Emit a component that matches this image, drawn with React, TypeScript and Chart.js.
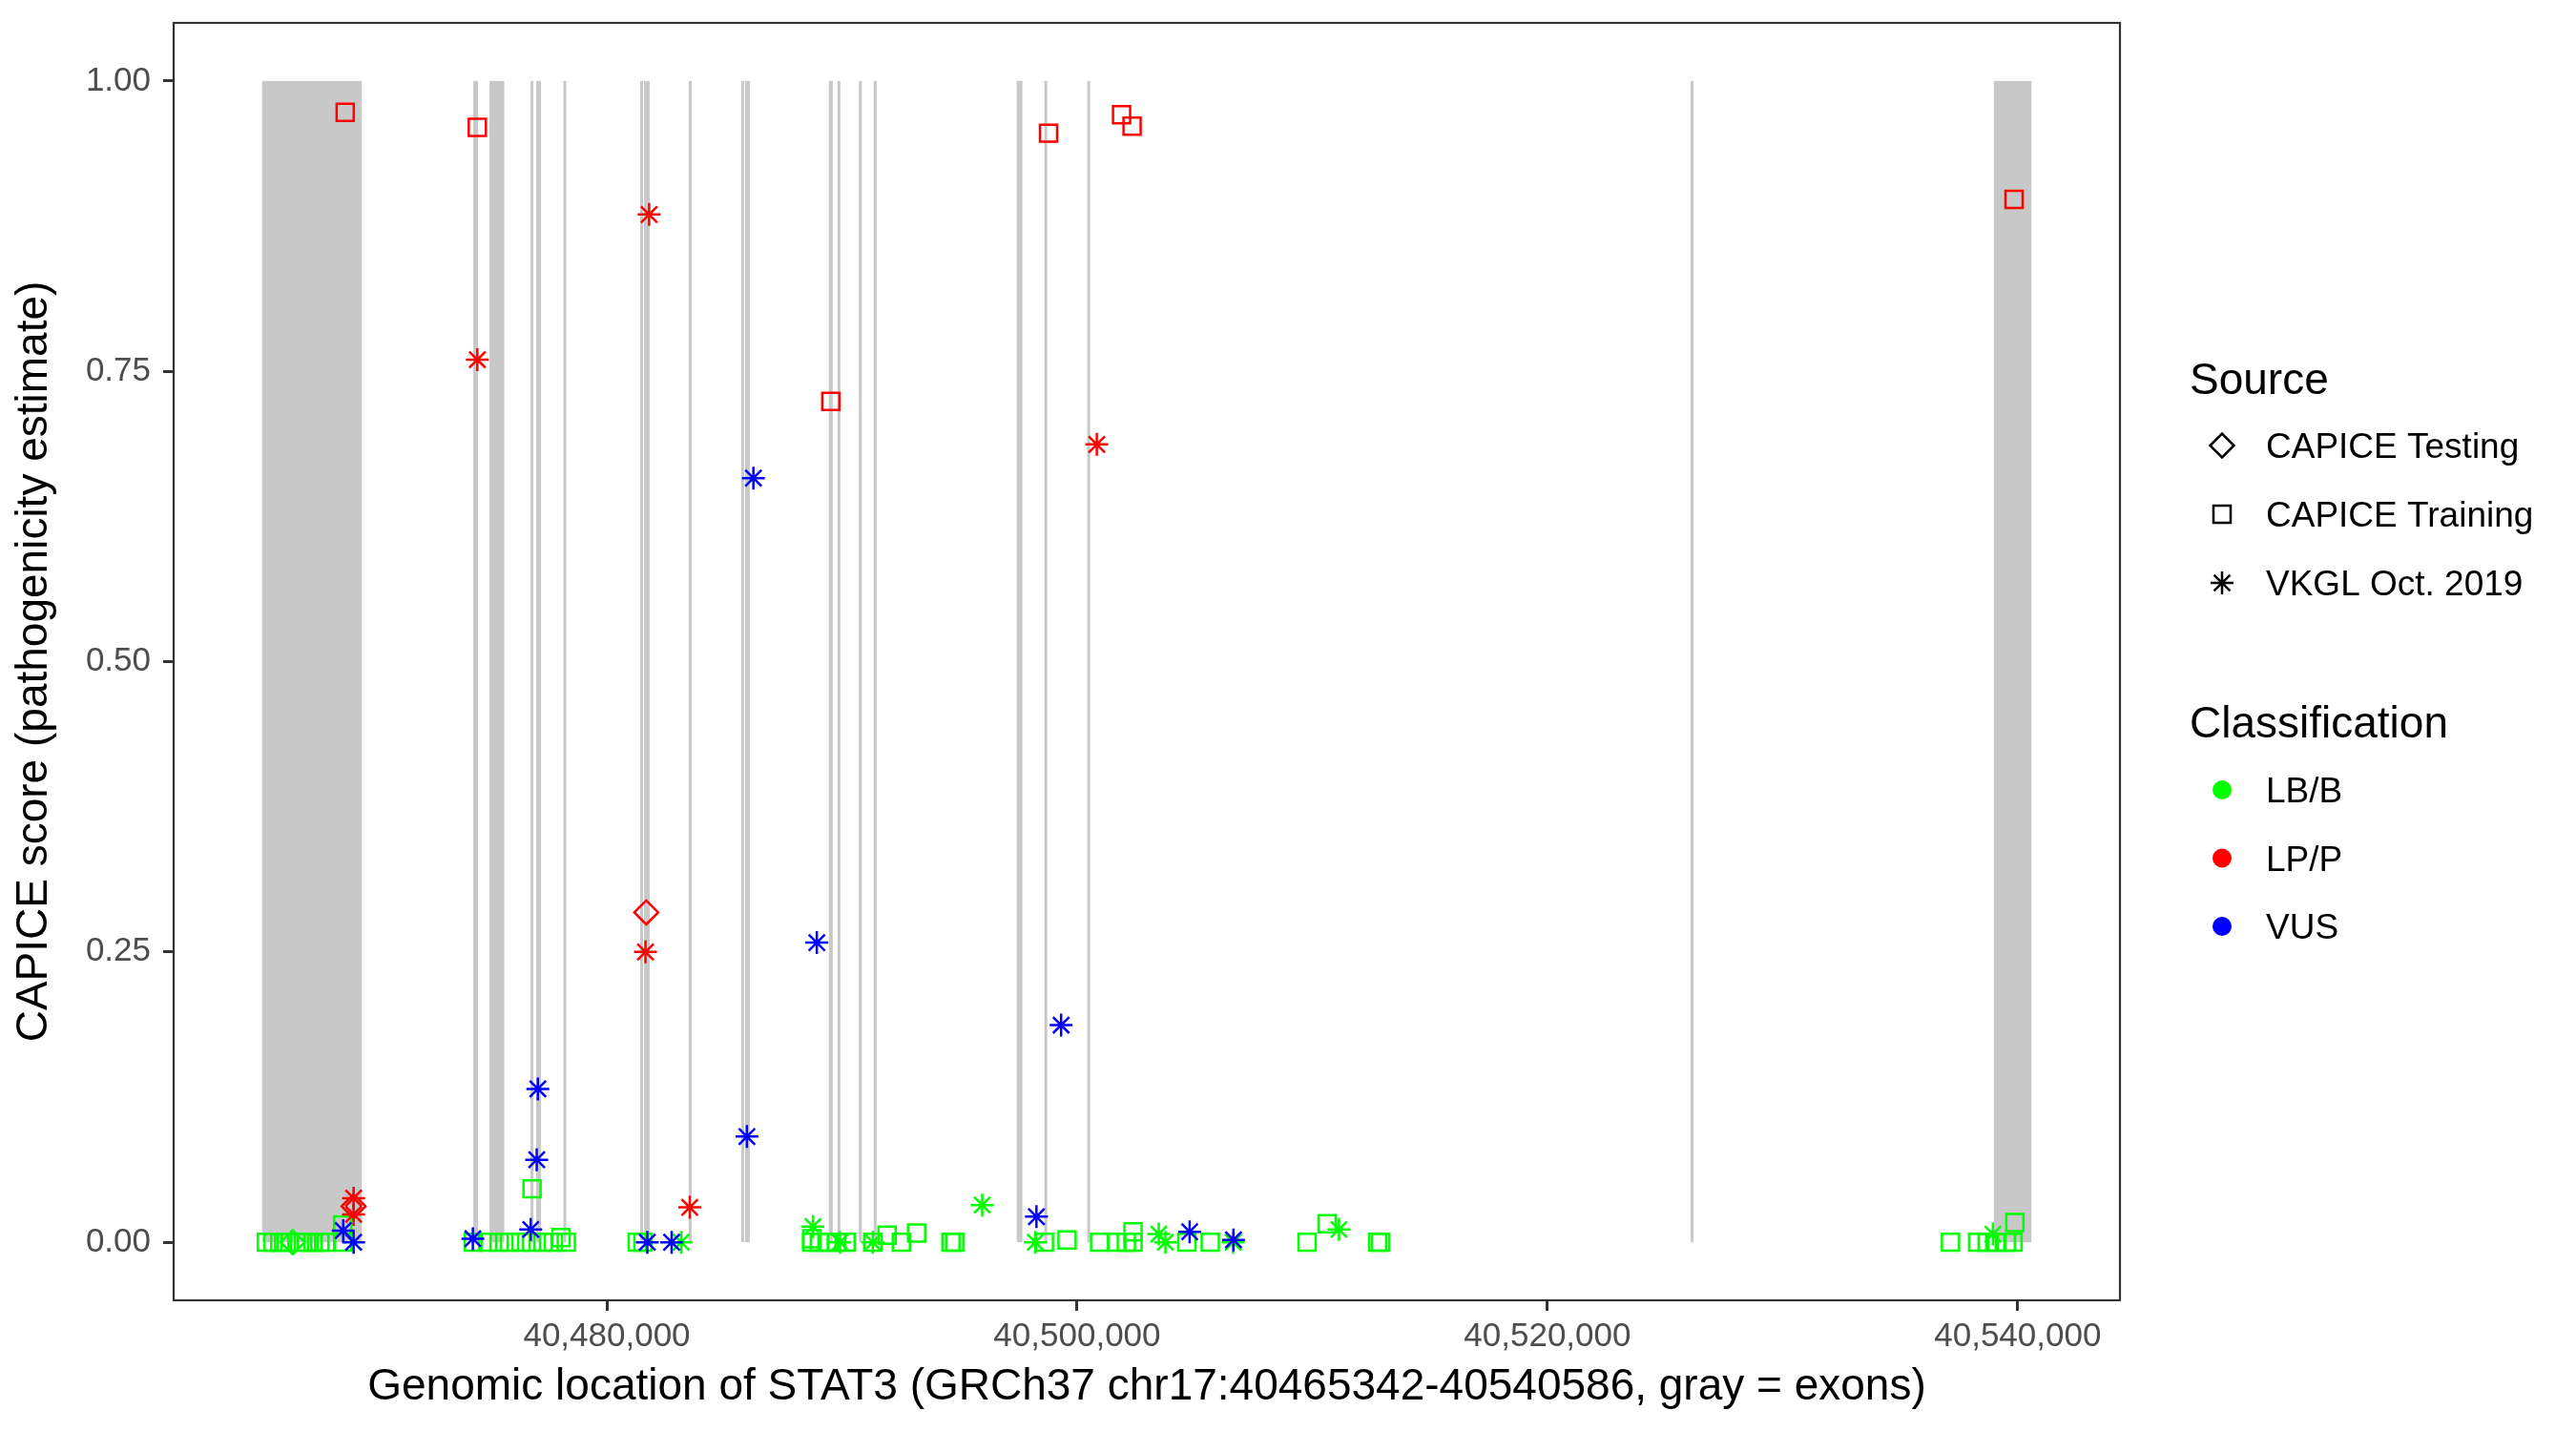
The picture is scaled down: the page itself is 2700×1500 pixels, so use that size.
import React, { useEffect, useRef } from 'react';
import { Chart, registerables } from 'chart.js';

Chart.register(...registerables);

const FONT = '"Liberation Sans", Arial, Helvetica, sans-serif';

// ---- axes ----
const xTicks = [40480000, 40500000, 40520000, 40540000];
const yTicks = [0, 0.25, 0.5, 0.75, 1];
const xMin = 40461580;
const xMax = 40544348;
const yMin = -0.05;
const yMax = 1.05;

const xTitle = 'Genomic location of STAT3 (GRCh37 chr17:40465342-40540586, gray = exons)';
const yTitle = 'CAPICE score (pathogenicity estimate)';

// ---- exons (gray bands) ----
const exonStarts = [
  40465342, 40474324, 40475013, 40476757, 40477000, 40478155, 40481419, 40481581, 40481703,
  40483486, 40485716, 40485878, 40489446, 40489811, 40490723, 40491351, 40497432, 40498608,
  40500432, 40526092, 40538985,
];
const exonEnds = [
  40469581, 40474527, 40475642, 40476878, 40477203, 40478216, 40481500, 40481662, 40481824,
  40483568, 40485797, 40486081, 40489608, 40489912, 40490824, 40491432, 40497675, 40498730,
  40500554, 40526214, 40540586,
];

// ---- legend ----
const sourceTitle = 'Source';
const sourceLabels = ['CAPICE Testing', 'CAPICE Training', 'VKGL Oct. 2019'];
const classTitle = 'Classification';
const classLabels = ['LB/B', 'LP/P', 'VUS'];
const classColors = ['#00FF00', '#FF0000', '#0000FF'];

// ---- points ----
// LB/B, CAPICE Training (green squares)
const lbTrainPos = [
  40465527, 40465811, 40466095, 40466379, 40466946, 40467230, 40467514, 40467797, 40468081,
  40468770, 40468770,
  40474324, 40474932, 40475419, 40475865, 40476351, 40476797, 40476822, 40477284, 40477730,
  40478054, 40478277,
  40481297, 40481540,
  40488716, 40488716, 40489040, 40489365, 40489770, 40490175,
  40491311, 40491919, 40492527, 40493176, 40494636, 40494797,
  40498608, 40499573, 40500959, 40501689, 40502094, 40502378, 40502378,
  40504669, 40505662, 40509781, 40510632, 40512780, 40512900,
  40537141, 40538297, 40538703, 40539108, 40539514, 40539798, 40539879,
];
const lbTrainScore = [
  0, 0, 0, 0, 0, 0, 0, 0, 0,
  0, 0.015,
  0, 0, 0, 0, 0, 0, 0.046, 0, 0,
  0.004, 0,
  0, 0,
  0.003, 0, 0, 0, 0, 0,
  0, 0.006, 0, 0.008, 0, 0,
  0, 0.002, 0, 0, 0, 0, 0.009,
  0, 0, 0, 0.016, 0, 0,
  0, 0, 0, 0, 0, 0, 0.017,
];

// LB/B, VKGL (green asterisks)
const lbVkglPos = [
  40483162, 40488769, 40489916, 40491311, 40495965, 40498223, 40503473, 40503756, 40506635,
  40511135, 40538945,
];
const lbVkglScore = [0, 0.0135, 0, 0, 0.032, 0, 0.007, 0, 0, 0.011, 0.007];

// LB/B, CAPICE Testing (green diamonds)
const lbTestPos = [40466642];
const lbTestScore = [0];

// LP/P, CAPICE Training (red squares)
const lpTrainPos = [40468876, 40474495, 40489527, 40498786, 40501892, 40502338, 40539845];
const lpTrainScore = [0.973, 0.96, 0.724, 0.955, 0.971, 0.961, 0.898];

// LP/P, VKGL (red asterisks)
const lpVkglPos = [40474495, 40481800, 40481646, 40500838, 40469233, 40469233, 40483527];
const lpVkglScore = [0.76, 0.885, 0.25, 0.687, 0.038, 0.024, 0.03];

// LP/P, CAPICE Testing (red diamonds)
const lpTestPos = [40481678, 40469233];
const lpTestScore = [0.284, 0.031];

// VUS, VKGL (blue asterisks)
const vusVkglPos = [
  40486235, 40488931, 40499321, 40477069, 40485959, 40477020, 40498271, 40476765, 40468791,
  40469233, 40474304, 40481723, 40482757, 40504786, 40506651,
];
const vusVkglScore = [
  0.658, 0.258, 0.187, 0.132, 0.091, 0.071, 0.022, 0.011, 0.01, 0, 0.003, 0, 0, 0.009, 0.002,
];

type Shape = 'diamond' | 'square' | 'star' | 'circle';

function drawShape(ctx: CanvasRenderingContext2D, shape: Shape, x: number, y: number, color: string) {
  ctx.save();
  ctx.strokeStyle = color;
  ctx.fillStyle = color;
  ctx.lineWidth = 2.5;
  ctx.beginPath();
  if (shape === 'square') {
    ctx.rect(x - 9, y - 9, 18, 18);
    ctx.stroke();
  } else if (shape === 'diamond') {
    const r = 12.5;
    ctx.moveTo(x - r, y);
    ctx.lineTo(x, y - r);
    ctx.lineTo(x + r, y);
    ctx.lineTo(x, y + r);
    ctx.closePath();
    ctx.stroke();
  } else if (shape === 'star') {
    const r = 12;
    const d = r * Math.SQRT1_2;
    ctx.moveTo(x - r, y); ctx.lineTo(x + r, y);
    ctx.moveTo(x, y - r); ctx.lineTo(x, y + r);
    ctx.moveTo(x - d, y - d); ctx.lineTo(x + d, y + d);
    ctx.moveTo(x - d, y + d); ctx.lineTo(x + d, y - d);
    ctx.stroke();
  } else {
    ctx.arc(x, y, 10, 0, Math.PI * 2);
    ctx.fill();
  }
  ctx.restore();
}

const exonPlugin = {
  id: 'exonBands',
  beforeDatasetsDraw(chart: any) {
    const { ctx, scales } = chart;
    const x = scales.x;
    const y = scales.y;
    const top = y.getPixelForValue(1);
    const bot = y.getPixelForValue(0);
    ctx.save();
    ctx.fillStyle = '#C8C8C8';
    exonStarts.forEach((s, i) => {
      const x0 = x.getPixelForValue(s);
      const x1 = x.getPixelForValue(exonEnds[i]);
      const w = Math.max(x1 - x0, 3);
      ctx.fillRect(x0, top, w, bot - top);
    });
    ctx.restore();
  },
};

const framePlugin = {
  id: 'panelFrame',
  afterDraw(chart: any) {
    const { ctx, chartArea } = chart;
    ctx.save();
    ctx.strokeStyle = '#333333';
    ctx.lineWidth = 2.2;
    ctx.strokeRect(chartArea.left, chartArea.top, chartArea.right - chartArea.left, chartArea.bottom - chartArea.top);
    ctx.restore();
  },
};

const legendPlugin = {
  id: 'ggLegend',
  afterDraw(chart: any) {
    const ctx: CanvasRenderingContext2D = chart.ctx;
    ctx.save();
    ctx.fillStyle = '#000000';
    ctx.textAlign = 'left';
    ctx.textBaseline = 'alphabetic';
    const titleX = 2295;
    const keyX = 2329;
    const textX = 2375;
    const step = 72;

    ctx.font = `46px ${FONT}`;
    ctx.fillText(sourceTitle, titleX, 413);
    const shapes: Shape[] = ['diamond', 'square', 'star'];
    sourceLabels.forEach((lab, i) => {
      const cy = 467 + i * step;
      drawShape(ctx, shapes[i], keyX, cy, '#000000');
      ctx.fillStyle = '#000000';
      ctx.font = `37px ${FONT}`;
      ctx.fillText(lab, textX, cy + 13);
    });

    ctx.font = `46px ${FONT}`;
    ctx.fillStyle = '#000000';
    ctx.fillText(classTitle, titleX, 773);
    classLabels.forEach((lab, i) => {
      const cy = 828 + i * 71.5;
      drawShape(ctx, 'circle', keyX, cy, classColors[i]);
      ctx.fillStyle = '#000000';
      ctx.font = `37px ${FONT}`;
      ctx.fillText(lab, textX, cy + 13);
    });
    ctx.restore();
  },
};

function makeSet(label: string, pos: number[], score: number[], style: string, color: string, radius: number) {
  return {
    label,
    data: pos.map((p, i) => ({ x: p, y: score[i] })),
    pointStyle: style,
    pointRadius: radius,
    pointHoverRadius: radius,
    borderColor: color,
    backgroundColor: 'rgba(0,0,0,0)',
    pointBorderWidth: 2.5,
    borderWidth: 2.5,
    showLine: false,
  };
}

export default function App() {
  const canvasRef = useRef<HTMLCanvasElement | null>(null);

  useEffect(() => {
    const canvas = canvasRef.current;
    if (!canvas) return;
    const green = classColors[0];
    const red = classColors[1];
    const blue = classColors[2];
    const chart = new Chart(canvas, {
      type: 'scatter',
      data: {
        datasets: [
          makeSet('VUS VKGL', vusVkglPos, vusVkglScore, 'star', blue, 12),
          makeSet('LP/P Testing', lpTestPos, lpTestScore, 'rectRot', red, 12.5),
          makeSet('LP/P VKGL', lpVkglPos, lpVkglScore, 'star', red, 12),
          makeSet('LP/P Training', lpTrainPos, lpTrainScore, 'rect', red, 12.7),
          makeSet('LB/B Testing', lbTestPos, lbTestScore, 'rectRot', green, 12.5),
          makeSet('LB/B VKGL', lbVkglPos, lbVkglScore, 'star', green, 12),
          makeSet('LB/B Training', lbTrainPos, lbTrainScore, 'rect', green, 12.7),
        ] as any,
      },
      options: {
        animation: false,
        responsive: false,
        maintainAspectRatio: false,
        devicePixelRatio: 1,
        events: [],
        layout: { padding: { top: 24, right: 478, left: 0, bottom: 0 } },
        plugins: {
          legend: { display: false },
          tooltip: { enabled: false },
        },
        scales: {
          x: {
            type: 'linear',
            min: xMin,
            max: xMax,
            afterFit: (scale: any) => {
              scale.height = 137;
              scale.paddingLeft = 0;
              scale.paddingRight = 0;
              scale.paddingTop = 0;
              scale.paddingBottom = 0;
            },
            afterBuildTicks: (scale: any) => {
              scale.ticks = xTicks.map((v) => ({ value: v }));
            },
            border: { display: false },
            grid: {
              display: true,
              drawOnChartArea: false,
              drawTicks: true,
              tickLength: 11,
              tickWidth: 3,
              tickColor: '#333333',
              color: '#333333',
            },
            ticks: {
              autoSkip: false,
              maxRotation: 0,
              padding: 6,
              color: '#4D4D4D',
              font: { size: 35, family: FONT },
              callback: (v: any) => Number(v).toLocaleString('en-US'),
            },
            title: {
              display: true,
              text: xTitle,
              color: '#000000',
              font: { size: 46, family: FONT },
              padding: { top: 0, bottom: 18 },
            },
          },
          y: {
            type: 'linear',
            min: yMin,
            max: yMax,
            afterFit: (scale: any) => {
              scale.width = 182;
              scale.paddingLeft = 0;
              scale.paddingRight = 0;
              scale.paddingTop = 0;
              scale.paddingBottom = 0;
            },
            afterBuildTicks: (scale: any) => {
              scale.ticks = yTicks.map((v) => ({ value: v }));
            },
            border: { display: false },
            grid: {
              display: true,
              drawOnChartArea: false,
              drawTicks: true,
              tickLength: 11,
              tickWidth: 3,
              tickColor: '#333333',
              color: '#333333',
            },
            ticks: {
              autoSkip: false,
              padding: 13,
              color: '#4D4D4D',
              font: { size: 35, family: FONT },
              callback: (v: any) => Number(v).toFixed(2),
            },
            title: {
              display: true,
              text: yTitle,
              color: '#000000',
              font: { size: 46, family: FONT },
              padding: { top: 9, bottom: 0 },
            },
          },
        },
      } as any,
      plugins: [exonPlugin, framePlugin, legendPlugin],
    });
    return () => chart.destroy();
  }, []);

  return (
    <div style={{ position: 'fixed', left: 0, top: 0, width: 2700, height: 1500, background: '#FFFFFF' }}>
      <canvas ref={canvasRef} width={2700} height={1500} style={{ width: 2700, height: 1500, display: 'block' }} />
    </div>
  );
}
